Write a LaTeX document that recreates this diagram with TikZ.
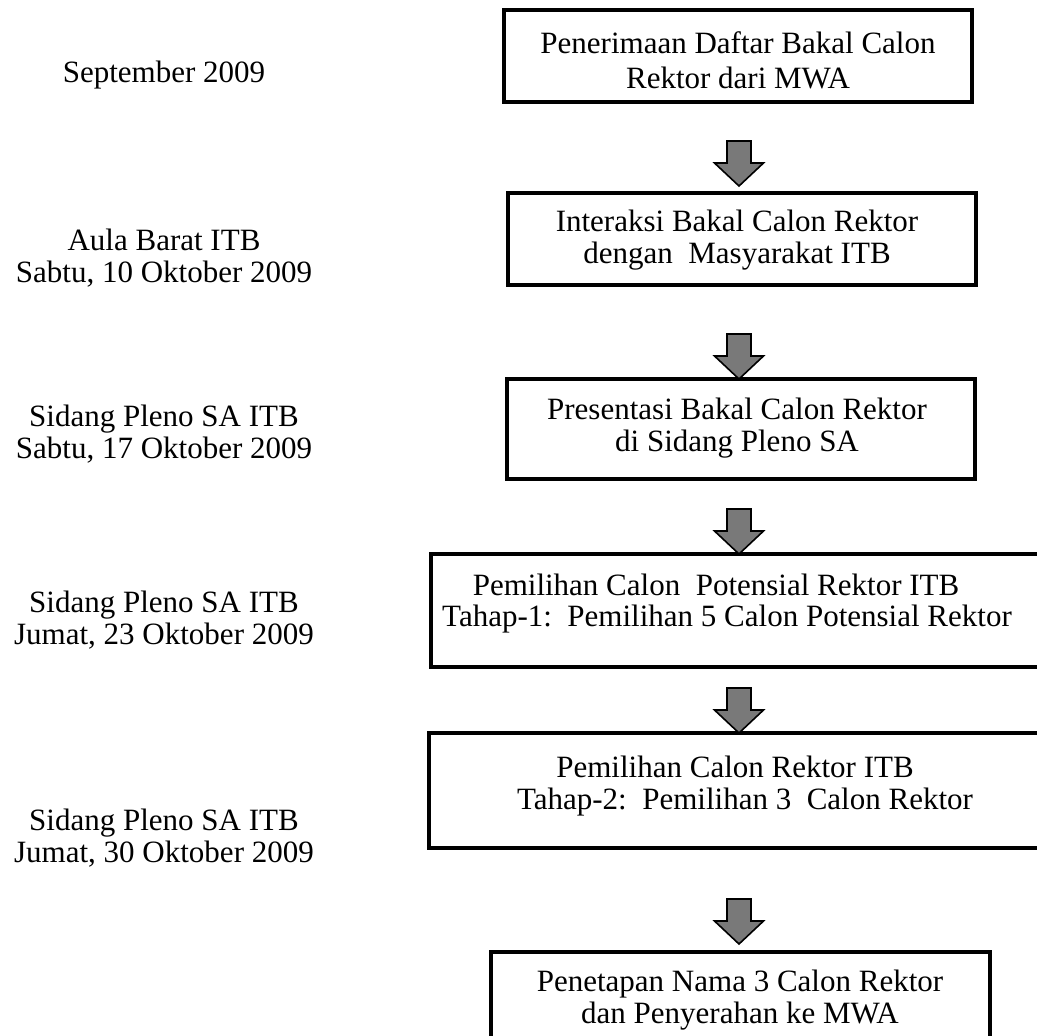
\documentclass[tikz,border=0pt]{standalone}
\usepackage{fontspec}
\setmainfont{Liberation Serif}
\begin{document}
\begin{tikzpicture}[x=1pt,y=-1pt,
  box/.style={draw=black, line width=3.3pt, fill=none, inner sep=0pt},
  txt/.style={inner sep=0pt, align=center, font=\fontsize{31}{35}\selectfont},
  lbl/.style={inner sep=0pt, align=center, font=\fontsize{31}{32}\selectfont},
  barrow/.style={draw=black, line width=1.6pt, fill=gray!95!black, line join=miter}]
\useasboundingbox (0,0) rectangle (1037,1036);
\clip (0,0) rectangle (1037,1036);
\fill[white] (0,0) rectangle (1037,1036);
\newcommand\blockarrow[1]{\draw[barrow] (#1) ++(-12,-45) -- ++(24,0) -- ++(0,22) -- ++(12.5,0) -- (#1) -- ++(-24.5,-23) -- ++(12.5,0) -- cycle;}

% boxes
\draw[box] (504,10) rectangle (972,102);
\node[txt] (t1a) at (738,43) {Penerimaan Daftar Bakal Calon};
\node[txt] (t1b) at (738,78) {Rektor dari MWA};

\draw[box] (508,193) rectangle (976,285);
\node[txt] (t2a) at (737,221) {Interaksi Bakal Calon Rektor};
\node[txt] (t2b) at (737,256) {dengan\ \ Masyarakat ITB};

\draw[box] (507,379) rectangle (975,479);
\node[txt] (t3a) at (737,409) {Presentasi Bakal Calon Rektor};
\node[txt] (t3b) at (737,444) {di Sidang Pleno SA};

\draw[box] (431,554) rectangle (1060,667);
\node[txt] (t4a) at (716,585) {Pemilihan Calon\ \ Potensial Rektor ITB};
\node[txt] (t4b) at (727,619) {Tahap-1:\ \ Pemilihan 5 Calon Potensial Rektor};

\draw[box] (429,733) rectangle (1060,848);
\node[txt] (t5a) at (735,767) {Pemilihan Calon Rektor ITB};
\node[txt] (t5b) at (745,802) {Tahap-2:\ \ Pemilihan 3\ \ Calon Rektor};

\draw[box] (491,952) rectangle (990,1060);
\node[txt] (t6a) at (740,984) {Penetapan Nama 3 Calon Rektor};
\node[txt] (t6b) at (740,1016) {dan Penyerahan ke MWA};

% arrows
\coordinate (a1) at (739,186);
\coordinate (a2) at (739,379);
\coordinate (a3) at (739,554);
\coordinate (a4) at (739,733);
\coordinate (a5) at (739,944);
\blockarrow{a1}
\blockarrow{a2}
\blockarrow{a3}
\blockarrow{a4}
\blockarrow{a5}

% left labels
\node[lbl] (l1) at (164,75) {September 2009};
\node[lbl] (l2) at (164,258) {Aula Barat ITB\\Sabtu, 10 Oktober 2009};
\node[lbl] (l3) at (164,434) {Sidang Pleno SA ITB\\Sabtu, 17 Oktober 2009};
\node[lbl] (l4) at (164,620) {Sidang Pleno SA ITB\\Jumat, 23 Oktober 2009};
\node[lbl] (l5) at (164,838) {Sidang Pleno SA ITB\\Jumat, 30 Oktober 2009};
\end{tikzpicture}
\end{document}
